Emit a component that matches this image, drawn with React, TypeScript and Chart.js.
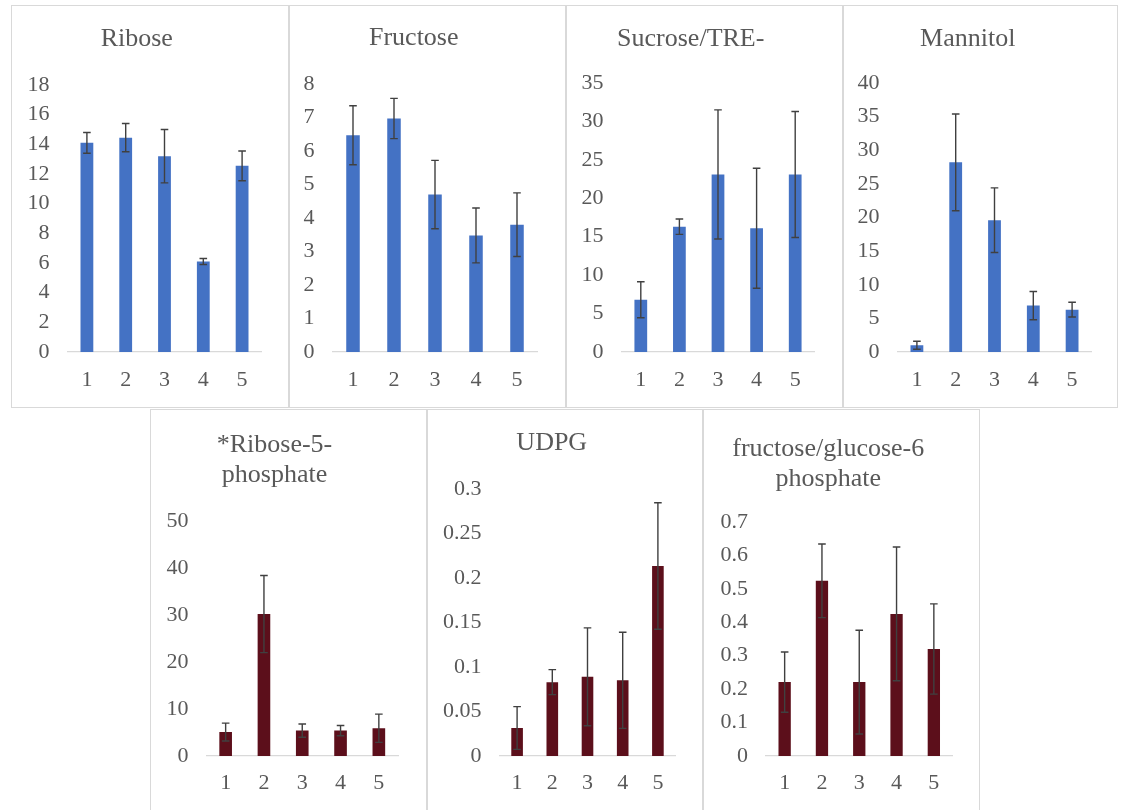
import React, { useEffect, useRef } from "react";
import { Chart, registerables } from "chart.js";

Chart.register(...registerables);

// ---------- data ----------
const categories = ["1", "2", "3", "4", "5"];

const riboseValues = [14.1, 14.45, 13.2, 6.1, 12.55];
const riboseErrors = [0.7, 0.95, 1.8, 0.2, 1.0];
const riboseTicks = [0, 2, 4, 6, 8, 10, 12, 14, 16, 18];

const fructoseValues = [6.47, 6.97, 4.7, 3.48, 3.8];
const fructoseErrors = [0.88, 0.6, 1.02, 0.82, 0.95];
const fructoseTicks = [0, 1, 2, 3, 4, 5, 6, 7, 8];

const sucroseValues = [6.8, 16.3, 23.1, 16.1, 23.1];
const sucroseErrors = [2.35, 1.0, 8.4, 7.8, 8.2];
const sucroseTicks = [0, 5, 10, 15, 20, 25, 30, 35];

const mannitolValues = [1.0, 28.2, 19.6, 6.9, 6.3];
const mannitolErrors = [0.6, 7.2, 4.8, 2.1, 1.1];
const mannitolTicks = [0, 5, 10, 15, 20, 25, 30, 35, 40];

const r5pValues = [5.1, 30.2, 5.4, 5.4, 5.9];
const r5pErrors = [1.9, 8.2, 1.4, 1.1, 3.0];
const r5pTicks = [0, 10, 20, 30, 40, 50];

const udpgValues = [0.0315, 0.083, 0.089, 0.085, 0.2135];
const udpgErrors = [0.024, 0.014, 0.055, 0.054, 0.071];
const udpgTicks = [0, 0.05, 0.1, 0.15, 0.2, 0.25, 0.3];

const fg6pValues = [0.221, 0.524, 0.221, 0.425, 0.32];
const fg6pErrors = [0.09, 0.11, 0.155, 0.2, 0.135];
const fg6pTicks = [0, 0.1, 0.2, 0.3, 0.4, 0.5, 0.6, 0.7];

// ---------- styling / layout ----------
const BLUE = "#4472C4";
const MAROON = "#5C0F1B";
const TEXT = "#595959";
const ERR = "#404040";
const BORDER = "#d9d9d9";
const FONT = "'Liberation Serif', 'Times New Roman', serif";

type Panel = {
  title: string[];
  values: number[];
  errors: number[];
  ticks: number[];
  color: string;
  box: { l: number; t: number; w: number; h: number };
  axis: { x0: number; x1: number; yTop: number; yZero: number; labelY: number };
  titleY: number;
};

const panels: Panel[] = [
  { title: ["Ribose"], values: riboseValues, errors: riboseErrors, ticks: riboseTicks, color: BLUE,
    box: { l: 11, t: 5, w: 278, h: 403 }, axis: { x0: 67.5, x1: 261.5, yTop: 85, yZero: 352, labelY: 380 }, titleY: 39 },
  { title: ["Fructose"], values: fructoseValues, errors: fructoseErrors, ticks: fructoseTicks, color: BLUE,
    box: { l: 289, t: 5, w: 277, h: 403 }, axis: { x0: 332.5, x1: 537.5, yTop: 84, yZero: 352, labelY: 380 }, titleY: 38 },
  { title: ["Sucrose/TRE-"], values: sucroseValues, errors: sucroseErrors, ticks: sucroseTicks, color: BLUE,
    box: { l: 566, t: 5, w: 277, h: 403 }, axis: { x0: 621.5, x1: 814.5, yTop: 83, yZero: 352, labelY: 380 }, titleY: 39 },
  { title: ["Mannitol"], values: mannitolValues, errors: mannitolErrors, ticks: mannitolTicks, color: BLUE,
    box: { l: 843, t: 5, w: 275, h: 403 }, axis: { x0: 897.5, x1: 1091.5, yTop: 83, yZero: 352, labelY: 380 }, titleY: 39 },
  { title: ["*Ribose-5-", "phosphate"], values: r5pValues, errors: r5pErrors, ticks: r5pTicks, color: MAROON,
    box: { l: 150, t: 409, w: 277, h: 404 }, axis: { x0: 206.5, x1: 398, yTop: 521, yZero: 756, labelY: 783 }, titleY: 445 },
  { title: ["UDPG"], values: udpgValues, errors: udpgErrors, ticks: udpgTicks, color: MAROON,
    box: { l: 427, t: 409, w: 276, h: 404 }, axis: { x0: 499.5, x1: 675.5, yTop: 489, yZero: 756, labelY: 783 }, titleY: 443 },
  { title: ["fructose/glucose-6", "phosphate"], values: fg6pValues, errors: fg6pErrors, ticks: fg6pTicks, color: MAROON,
    box: { l: 703, t: 409, w: 277, h: 404 }, axis: { x0: 766, x1: 952.5, yTop: 522, yZero: 756, labelY: 783 }, titleY: 449 },
];

const TITLE_SIZE = 26;
const TITLE_LH = 1.15;
const TICK_SIZE = 22;

const errorBarPlugin = {
  id: "errorBars",
  afterDatasetsDraw(chart: any, _args: any, opts: any) {
    const errs: number[] = opts.errors;
    if (!errs) return;
    const meta = chart.getDatasetMeta(0);
    const ys = chart.scales.y;
    const vals = chart.data.datasets[0].data as number[];
    const ctx = chart.ctx;
    const cap = 3.8;
    ctx.save();
    ctx.strokeStyle = ERR;
    ctx.lineWidth = 1.4;
    meta.data.forEach((el: any, i: number) => {
      const x = el.x;
      const top = ys.getPixelForValue(vals[i] + errs[i]);
      const bot = ys.getPixelForValue(vals[i] - errs[i]);
      ctx.beginPath();
      ctx.moveTo(x, top);
      ctx.lineTo(x, bot);
      ctx.moveTo(x - cap, top);
      ctx.lineTo(x + cap, top);
      ctx.moveTo(x - cap, bot);
      ctx.lineTo(x + cap, bot);
      ctx.stroke();
    });
    ctx.restore();
  },
};

function PanelChart({ p }: { p: Panel }) {
  const ref = useRef<HTMLCanvasElement>(null);
  const cw = p.box.w - 2;
  const ch = p.box.h - 2;

  useEffect(() => {
    if (!ref.current) return;
    const ox = p.box.l + 1;
    const oy = p.box.t + 1;
    const yW = p.axis.x0 - ox;
    const padR = cw - (p.axis.x1 - ox);
    const lh = TITLE_SIZE * TITLE_LH;
    const tT = p.titleY - oy - lh / 2;
    const tB = p.axis.yTop - oy - tT - p.title.length * lh;
    const xH = ch - (p.axis.yZero - oy);
    const xPad = p.axis.labelY - p.axis.yZero - TICK_SIZE * 0.6;
    const ticks = p.ticks;
    const max = ticks[ticks.length - 1];

    const chart = new Chart(ref.current, {
      type: "bar",
      data: {
        labels: categories,
        datasets: [
          {
            data: p.values,
            backgroundColor: p.color,
            borderWidth: 0,
            barPercentage: 0.33,
            categoryPercentage: 1,
          },
        ],
      },
      options: {
        animation: false,
        responsive: false,
        maintainAspectRatio: false,
        devicePixelRatio: 1,
        layout: { padding: { left: 0, right: padR, top: 0, bottom: 0 } },
        plugins: {
          legend: { display: false },
          tooltip: { enabled: false },
          title: {
            display: true,
            text: p.title,
            color: TEXT,
            font: { family: FONT, size: TITLE_SIZE, lineHeight: TITLE_LH, weight: "normal" },
            padding: { top: tT, bottom: Math.max(0, tB) },
          },
          errorBars: { errors: p.errors },
        } as any,
        scales: {
          x: {
            grid: { display: true, color: "rgba(0,0,0,0)", drawTicks: false },
            border: { display: true, color: BORDER, width: 1.3 },
            ticks: {
              color: TEXT,
              font: { family: FONT, size: TICK_SIZE },
              padding: xPad,
              maxRotation: 0,
              autoSkip: false,
            },
            afterFit: (s: any) => {
              s.height = xH;
            },
          },
          y: {
            min: 0,
            max,
            grid: { display: false, drawTicks: false },
            border: { display: false },
            ticks: {
              color: TEXT,
              font: { family: FONT, size: TICK_SIZE },
              padding: 18,
              autoSkip: false,
              callback: (v: any) => String(v),
            },
            afterBuildTicks: (s: any) => {
              s.ticks = ticks.map((v) => ({ value: v }));
            },
            afterFit: (s: any) => {
              s.width = yW;
            },
          },
        },
      } as any,
      plugins: [errorBarPlugin],
    });
    return () => chart.destroy();
  }, []);

  return (
    <div
      style={{
        position: "absolute",
        left: p.box.l,
        top: p.box.t,
        width: p.box.w,
        height: p.box.h,
        boxSizing: "border-box",
        border: `1px solid ${BORDER}`,
        background: "#fff",
      }}
    >
      <canvas ref={ref} width={cw} height={ch} style={{ display: "block", width: cw, height: ch }} />
    </div>
  );
}

export default function App() {
  return (
    <div
      style={{
        position: "absolute",
        left: 0,
        top: 0,
        width: 1122,
        height: 810,
        overflow: "hidden",
        background: "#fff",
      }}
    >
      {panels.map((p, i) => (
        <PanelChart key={i} p={p} />
      ))}
    </div>
  );
}
